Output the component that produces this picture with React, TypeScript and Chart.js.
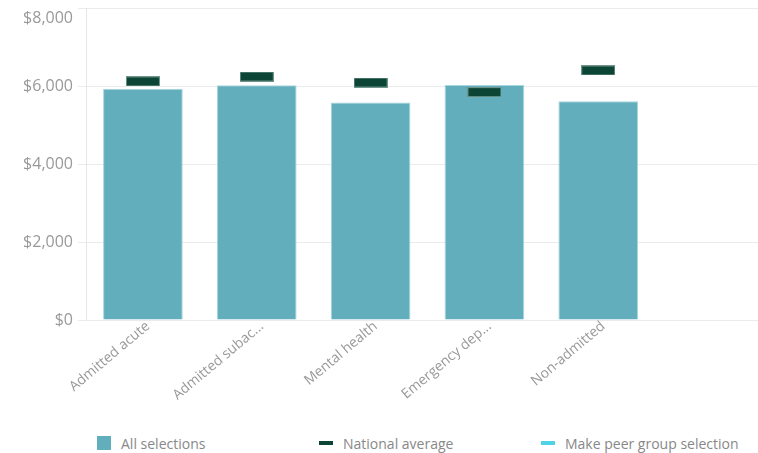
import React, { useEffect, useRef } from "react";
import { Chart, registerables } from "chart.js";

Chart.register(...registerables);

const categories = ["Admitted acute", "Admitted subac...", "Mental health", "Emergency dep...", "Non-admitted", ""];
const allSelections = [5940, 6030, 5590, 6040, 5620, null];
const nationalAverage = [6130, 6255, 6100, 5855, 6410, null];
const yMax = 8000;
const yStep = 2000;
const legendLabels = ["All selections", "National average", "Make peer group selection"];

const BAR = "#62aebd";
const BAR_BORDER = "#a6d6de";
const NAT = "#0c4535";
const PEER = "#4fd2e8";
const FONT = "'Open Sans', sans-serif";
const TICK_COLOR = "#999";
const Y_FONT_SIZE = 16;

const fmt = (v: number) => "$" + Number(v).toLocaleString("en-US");

// draws the top y tick label just inside the plot, as in the reference
const topLabelPlugin = {
  id: "topLabel",
  afterDraw(chart: any) {
    const y = chart.scales.y;
    const ctx = chart.ctx;
    ctx.save();
    ctx.font = `${Y_FONT_SIZE}px ${FONT}`;
    ctx.fillStyle = TICK_COLOR;
    ctx.textAlign = "right";
    ctx.textBaseline = "middle";
    ctx.fillText(fmt(yMax), y.right - 8 - 5, y.getPixelForValue(yMax) + 10);
    ctx.restore();
  },
};

export default function App() {
  const ref = useRef<HTMLCanvasElement>(null);

  useEffect(() => {
    document.body.style.overflow = "hidden";
    const marker = document.createElement("canvas");
    marker.width = 34;
    marker.height = 10;
    const mctx = marker.getContext("2d")!;
    mctx.fillStyle = "#6f958a";
    mctx.fillRect(0, 0, 34, 10);
    mctx.fillStyle = NAT;
    mctx.fillRect(1, 1, 32, 8);

    const chart = new Chart(ref.current!, {
      type: "bar",
      data: {
        labels: categories,
        datasets: [
          {
            type: "line",
            label: legendLabels[1],
            data: nationalAverage as any,
            showLine: false,
            pointStyle: marker as any,
            pointRadius: 10,
            pointHoverRadius: 10,
            order: 0,
          } as any,
          {
            type: "bar",
            label: legendLabels[0],
            data: allSelections as any,
            backgroundColor: BAR,
            borderColor: BAR_BORDER,
            borderWidth: 1,
            barPercentage: 0.875,
            categoryPercentage: 0.8,
            order: 1,
          },
        ],
      },
      options: {
        animation: false,
        responsive: true,
        maintainAspectRatio: false,
        layout: { padding: { top: 0, right: 10, left: 0, bottom: 0 } },
        plugins: {
          legend: { display: false },
          tooltip: { enabled: false },
        },
        scales: {
          x: {
            grid: { display: false },
            border: { display: false },
            ticks: {
              color: TICK_COLOR,
              padding: -10,
              labelOffset: 5,
              font: { family: FONT, size: 14 },
              minRotation: 40,
              maxRotation: 40,
              autoSkip: false,
            },
            afterFit: (scale: any) => {
              scale.height = 105;
            },
          },
          y: {
            min: 0,
            max: yMax,
            ticks: {
              stepSize: yStep,
              color: TICK_COLOR,
              padding: 5,
              font: { family: FONT, size: Y_FONT_SIZE },
              callback: (v: any) => (Number(v) === yMax ? "" : fmt(v)),
            },
            grid: { color: "#ebebeb", tickLength: 8 },
            border: { display: true, color: "#e6e6e6" },
            afterFit: (scale: any) => {
              scale.width = 86;
            },
          },
        },
      },
      plugins: [topLabelPlugin],
    });
    return () => chart.destroy();
  }, []);

  const legendItem = (left: number, label: string, swatch: React.CSSProperties) => (
    <div
      style={{
        position: "absolute",
        left,
        top: 435,
        height: 16,
        display: "flex",
        alignItems: "center",
        whiteSpace: "nowrap",
        fontFamily: FONT,
        fontSize: 14,
        color: "#888",
      }}
    >
      <span style={{ display: "inline-block", width: 14, marginRight: 10, ...swatch }} />
      <span>{label}</span>
    </div>
  );

  return (
    <div style={{ position: "absolute", left: 0, top: 0, width: 780, height: 453, background: "#fff", overflow: "hidden" }}>
      <div style={{ position: "absolute", left: 0, top: -6, width: 780, height: 431 }}>
        <canvas ref={ref} />
      </div>
      {legendItem(97, legendLabels[0], { height: 14, background: BAR })}
      {legendItem(319, legendLabels[1], { height: 4, background: NAT })}
      {legendItem(541, legendLabels[2], { height: 4, background: PEER })}
    </div>
  );
}
